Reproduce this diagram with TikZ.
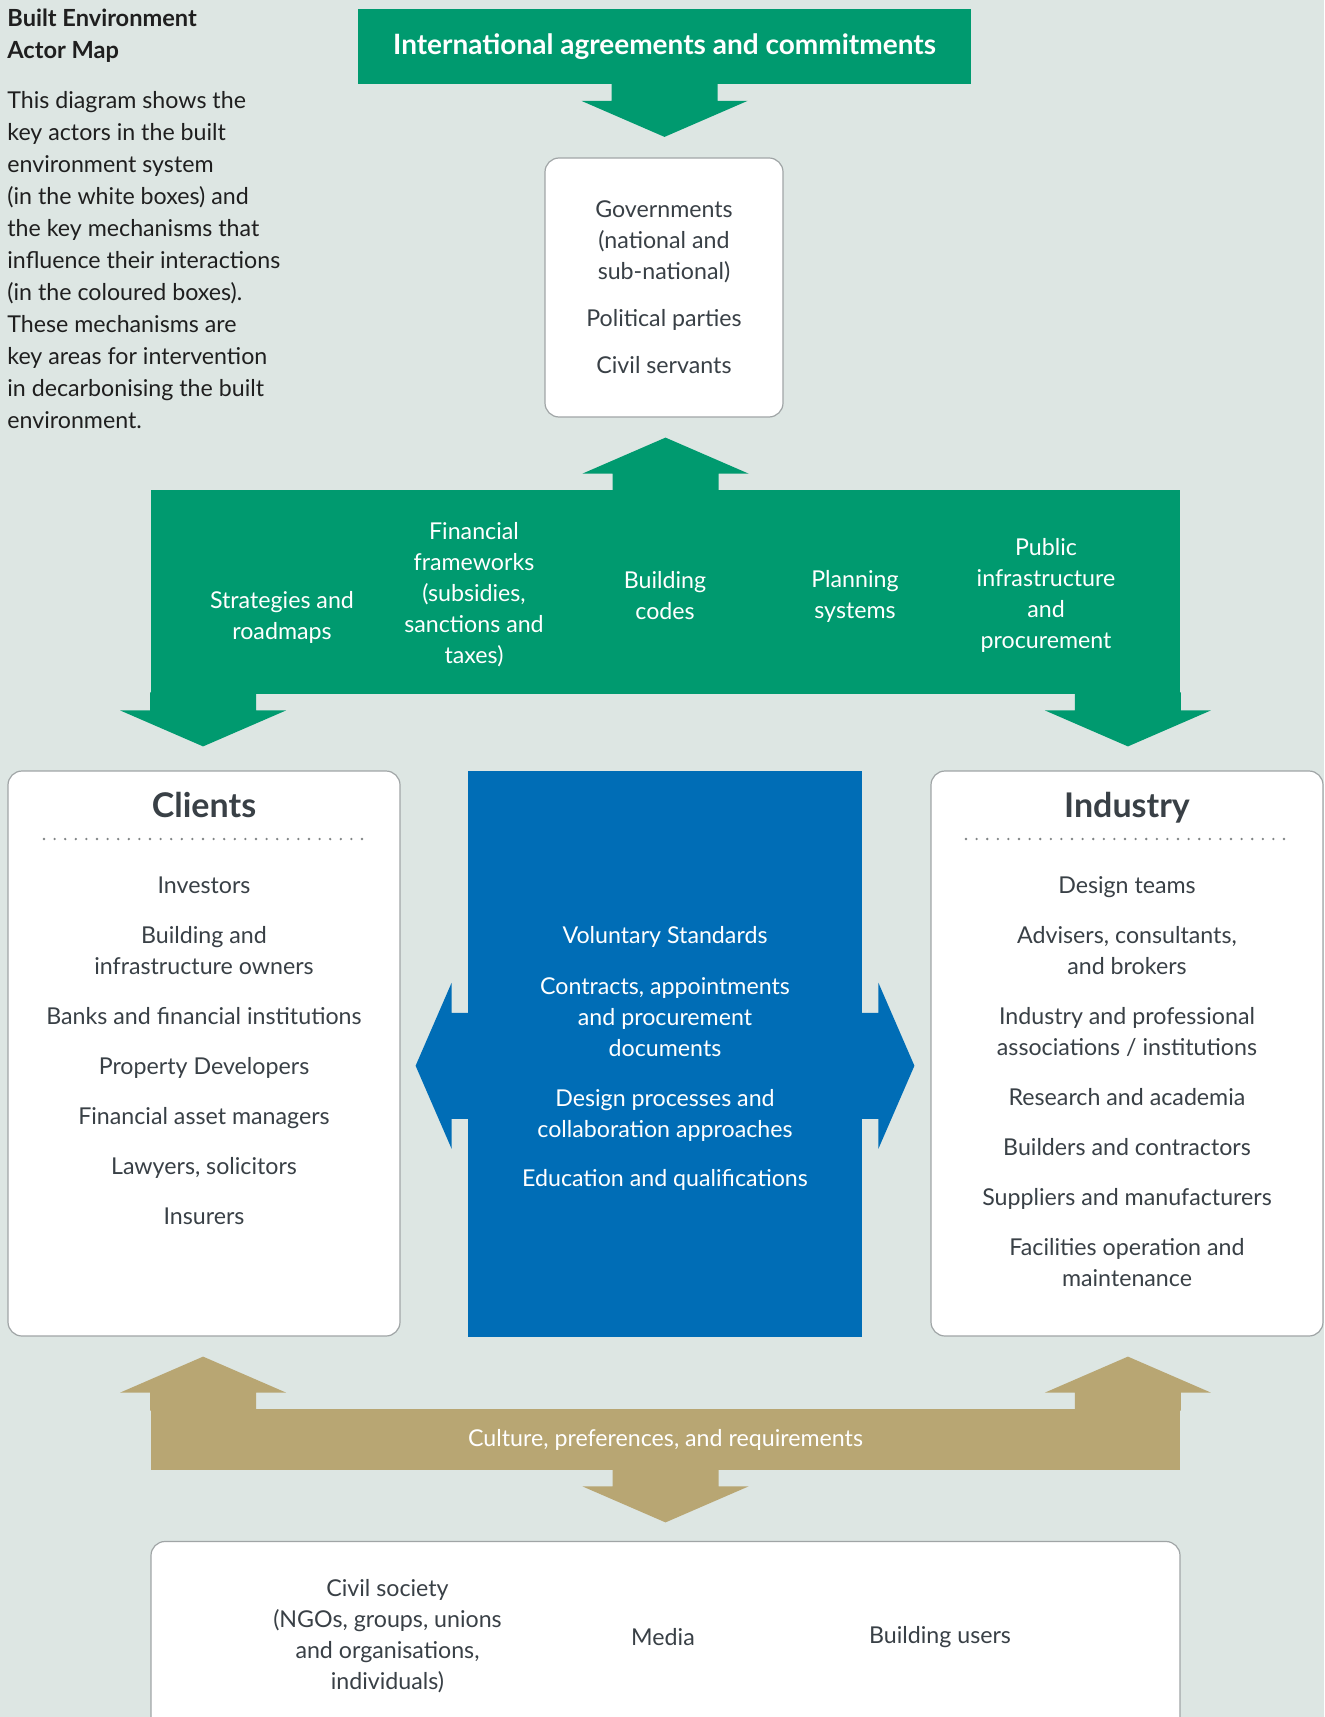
\documentclass[tikz,border=0pt]{standalone}
\usepackage{fontspec}
\setmainfont{Lato}
\usetikzlibrary{calc}
\definecolor{bgcol}{HTML}{DDE6E3}
\definecolor{mechgreen}{HTML}{009A6F}
\definecolor{mechblue}{HTML}{006DB6}
\definecolor{mechtan}{HTML}{B8A673}
\definecolor{inkgrey}{HTML}{394046}
\definecolor{edgegrey}{HTML}{A0A5A6}
\newcommand{\BlockArrow}[3]{
  \begin{scope}[shift={#1},rotate=#2]
    \fill[#3] (-53,-2) -- (-53,16) -- (-83,16) -- (0,52)
      -- (83,16) -- (53,16) -- (53,-2) -- cycle;
  \end{scope}
}
\tikzset{
  actorbox/.style={draw=edgegrey,line width=0.6pt,fill=white,rounded corners=7pt},
  itemtext/.style={text=inkgrey,align=center,inner sep=0pt,font=\fontsize{11.6}{15.5}\selectfont},
  mechtext/.style={itemtext,text=white},
  boxhead/.style={text=inkgrey,inner sep=0pt,anchor=base,font=\fontsize{17}{20}\selectfont\bfseries},
  dotrule/.style={edgegrey!80!black,line width=1.3pt,line cap=round,dash pattern=on 0pt off 5.3pt}
}

\begin{document}
\begin{tikzpicture}[x=0.5pt,y=-0.5pt]
  \useasboundingbox (0,0) rectangle (1324,1717);
  \clip (0,0) rectangle (1324,1717);
  \fill[bgcol] (0,0) rectangle (1324,1717);

  \node[anchor=west,align=left,inner sep=0pt,text=black!88,
    font=\fontsize{11.8}{16}\selectfont\bfseries] (title) at (7,36)
    {Built Environment\\Actor Map};
  \node[anchor=west,align=left,inner sep=0pt,text=black!88,
    font=\fontsize{11.6}{16}\selectfont] (intro) at (7,260)
    {This diagram shows the\\key actors in the built\\environment system\\
     (in the white boxes) and\\the key mechanisms that\\influence their interactions\\
     (in the coloured boxes).\\These mechanisms are\\key areas for intervention\\
     in decarbonising the built\\environment.};

  % top: agreements and governments
  \node[fill=mechgreen,minimum width=306.5pt,minimum height=37.5pt,text=white,
    font=\fontsize{14}{16}\selectfont\bfseries] (intl) at (664.5,47)
    {International agreements and commitments};
  \BlockArrow{(intl.south)}{0}{mechgreen}
  \node[actorbox,minimum width=119pt,minimum height=129.5pt,itemtext] (gov) at (664,287.5)
    {Governments\\(national and\\sub-national)\\[8pt]Political parties\\[8pt]Civil servants};

  % regulation layer
  \node[fill=mechgreen,minimum width=514.5pt,minimum height=102pt] (mech) at (665.5,592) {};
  \BlockArrow{(mech.north)}{180}{mechgreen}
  \BlockArrow{($(mech.south west)+(52.5,0)$)}{0}{mechgreen}
  \BlockArrow{($(mech.south east)+(-52.5,0)$)}{0}{mechgreen}
  \node[mechtext] (strat) at (282,617) {Strategies and\\roadmaps};
  \node[mechtext] (fin) at (474,595) {Financial\\frameworks\\(subsidies,\\sanctions and\\taxes)};
  \node[mechtext] (codes) at (665,596) {Building\\codes};
  \node[mechtext] (plan) at (855,596) {Planning\\systems};
  \node[mechtext] (public) at (1046,595.5) {Public\\infrastructure\\and\\procurement};

  % actors on both sides
  \node[actorbox,minimum width=196pt,minimum height=282.5pt] (clients) at (204,1053.5) {};
  \node[boxhead] (clientshead) at (204,817) {Clients};
  \draw[dotrule] (44,839) -- (365,839);
  \node[itemtext] (clientlist) at (204,1051)
    {Investors\\[9.5pt]Building and\\infrastructure owners\\[9.5pt]Banks and financial institutions\\[9.5pt]Property Developers\\[9.5pt]Financial asset managers\\[9.5pt]Lawyers, solicitors\\[9.5pt]Insurers};

  \node[actorbox,minimum width=196pt,minimum height=282.5pt] (industry) at (1127,1053.5) {};
  \node[boxhead] (industryhead) at (1127,817) {Industry};
  \draw[dotrule] (966,839) -- (1287,839);
  \node[itemtext] (industrylist) at (1127,1081.5)
    {Design teams\\[9.5pt]Advisers, consultants,\\and brokers\\[9.5pt]Industry and professional\\associations / institutions\\[9.5pt]Research and academia\\[9.5pt]Builders and contractors\\[9.5pt]Suppliers and manufacturers\\[9.5pt]Facilities operation and\\maintenance};

  \node[fill=mechblue,minimum width=197pt,minimum height=282.75pt] (vol) at (665,1053.75) {};
  \BlockArrow{($(vol.west)+(0,12)$)}{-90}{mechblue}
  \BlockArrow{($(vol.east)+(0,12)$)}{90}{mechblue}
  \node[mechtext] (vollist) at (665,1058)
    {Voluntary Standards\\[10pt]Contracts, appointments\\and procurement\\documents\\[9.5pt]Design processes and\\collaboration approaches\\[9pt]Education and qualifications};

  % culture layer
  \node[fill=mechtan,minimum width=514.5pt,minimum height=30.5pt,mechtext] (culture) at (665.5,1439.5)
    {Culture, preferences, and requirements};
  \BlockArrow{($(culture.north west)+(52.5,0)$)}{180}{mechtan}
  \BlockArrow{($(culture.north east)+(-52.5,0)$)}{180}{mechtan}
  \BlockArrow{(culture.south)}{0}{mechtan}

  \node[actorbox,minimum width=514.5pt,minimum height=98.5pt] (society) at (665.5,1640) {};
  \node[itemtext] (civil) at (387.5,1636) {Civil society\\(NGOs, groups, unions\\and organisations,\\individuals)};
  \node[itemtext] (media) at (663,1637) {Media};
  \node[itemtext] (users) at (940,1637) {Building users};
\end{tikzpicture}
\end{document}
